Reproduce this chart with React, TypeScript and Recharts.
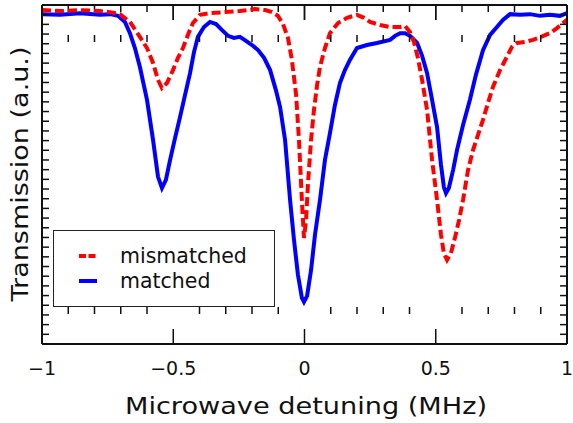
import React from 'react';
import { LineChart, Line, XAxis, YAxis, ReferenceLine } from 'recharts';

// ---- data (detuning in MHz, transmission in a.u.) ----
const matchedX = [
  -1.0, -0.931, -0.855, -0.779, -0.741, -0.71, -0.684, -0.665, -0.646, -0.627,
  -0.6, -0.577, -0.558, -0.543, -0.528, -0.512, -0.493, -0.474, -0.455, -0.436,
  -0.421, -0.406, -0.383, -0.36, -0.337, -0.314, -0.291, -0.269, -0.246, -0.223,
  -0.2, -0.177, -0.154, -0.131, -0.109, -0.093, -0.074, -0.055, -0.04, -0.025,
  -0.01, -0.002, 0.01, 0.025, 0.04, 0.059, 0.078, 0.097, 0.116, 0.135,
  0.154, 0.173, 0.2, 0.238, 0.276, 0.326, 0.345, 0.364, 0.383, 0.402,
  0.429, 0.448, 0.467, 0.486, 0.505, 0.52, 0.531, 0.539, 0.55, 0.566,
  0.581, 0.604, 0.63, 0.653, 0.68, 0.707, 0.733, 0.756, 0.783, 0.821,
  0.859, 0.897, 0.935, 0.973, 1.0,
];
const matchedY = [
  0.973, 0.971, 0.976, 0.971, 0.973, 0.968, 0.95, 0.917, 0.873, 0.817,
  0.72, 0.602, 0.493, 0.46, 0.484, 0.543, 0.608, 0.67, 0.735, 0.799,
  0.861, 0.906, 0.935, 0.95, 0.944, 0.926, 0.909, 0.903, 0.906, 0.894,
  0.882, 0.867, 0.844, 0.808, 0.749, 0.699, 0.602, 0.425, 0.307, 0.204,
  0.136, 0.124, 0.142, 0.218, 0.322, 0.425, 0.543, 0.622, 0.705, 0.77,
  0.808, 0.838, 0.873, 0.882, 0.888, 0.897, 0.909, 0.917, 0.917, 0.909,
  0.888, 0.85, 0.799, 0.72, 0.64, 0.528, 0.463, 0.445, 0.46, 0.513,
  0.572, 0.646, 0.72, 0.794, 0.867, 0.912, 0.935, 0.956, 0.973, 0.971,
  0.973, 0.968, 0.971, 0.968, 0.976,
];

const mismatchedX = [
  -1.0, -0.931, -0.855, -0.779, -0.741, -0.703, -0.665, -0.627, -0.6, -0.577,
  -0.558, -0.543, -0.524, -0.501, -0.482, -0.463, -0.444, -0.425, -0.398, -0.36,
  -0.303, -0.246, -0.189, -0.15, -0.124, -0.101, -0.082, -0.063, -0.048, -0.032,
  -0.021, -0.01, -0.002, 0.006, 0.013, 0.025, 0.036, 0.048, 0.059, 0.078,
  0.097, 0.128, 0.162, 0.2, 0.227, 0.25, 0.288, 0.326, 0.364, 0.383,
  0.402, 0.417, 0.432, 0.448, 0.467, 0.486, 0.505, 0.52, 0.531, 0.543,
  0.558, 0.573, 0.589, 0.604, 0.623, 0.642, 0.661, 0.68, 0.699, 0.718,
  0.745, 0.771, 0.79, 0.81, 0.84, 0.87, 0.901, 0.935, 0.962, 0.985,
  1.0,
];
const mismatchedY = [
  0.985, 0.982, 0.985, 0.982, 0.979, 0.973, 0.95, 0.906, 0.873, 0.829,
  0.779, 0.755, 0.77, 0.808, 0.844, 0.873, 0.912, 0.947, 0.971, 0.976,
  0.979, 0.982, 0.988, 0.985, 0.979, 0.968, 0.944, 0.903, 0.838, 0.735,
  0.602, 0.425, 0.313, 0.366, 0.469, 0.602, 0.69, 0.764, 0.817, 0.873,
  0.917, 0.947, 0.962, 0.971, 0.962, 0.95, 0.941, 0.935, 0.935, 0.938,
  0.92, 0.891, 0.844, 0.779, 0.69, 0.543, 0.425, 0.322, 0.268, 0.248,
  0.268, 0.313, 0.366, 0.425, 0.513, 0.572, 0.617, 0.661, 0.711, 0.758,
  0.808, 0.847, 0.876, 0.888, 0.891, 0.897, 0.906, 0.917, 0.932, 0.947,
  0.956,
];

const xTickLabels = [-1, -0.5, 0, 0.5, 1];
const xMinorTicks = [-0.9, -0.8, -0.7, -0.6, -0.4, -0.3, -0.2, -0.1, 0.1, 0.2, 0.3, 0.4, 0.6, 0.7, 0.8, 0.9];
const yTickCount = 35;
const yMinorTicks = Array.from({ length: yTickCount + 1 }, (_, k) => k / yTickCount);

const series = [
  { name: 'mismatched', color: '#ff0000', dash: '9 4', legendDash: '7 2.5' },
  { name: 'matched', color: '#0000ff', dash: undefined, legendDash: undefined },
];
const xTitle = 'Microwave detuning (MHz)';
const yTitle = 'Transmission (a.u.)';

const matchedData = matchedX.map((x, i) => ({ x, y: matchedY[i] }));
const mismatchedData = mismatchedX.map((x, i) => ({ x, y: mismatchedY[i] }));

const FONT = '"DejaVu Sans", Verdana, sans-serif';
const fmt = (v: number) => (v < 0 ? '\u2212' + Math.abs(v) : String(v));

const EmptyTick = () => <g />;
const tickStroke = { stroke: '#111', strokeWidth: 1.5 };
const frameStroke = { stroke: '#111', strokeWidth: 2 };

const LegendBox = () => (
  <div style={{ position: 'absolute', left: 53, top: 230, width: 222, height: 77, boxSizing: 'border-box', border: '1.5px solid #222', background: '#fff' }}>
    {series.map((s, i) => (
      <div key={s.name} style={{ position: 'absolute', left: 0, top: 13 + i * 25, height: 24, display: 'flex', alignItems: 'center' }}>
        <svg width={60} height={24} style={{ display: 'block' }}>
          <line x1={25} x2={43} y1={12} y2={12} stroke={s.color} strokeWidth={4} strokeDasharray={s.legendDash} />
        </svg>
        <span style={{ fontFamily: FONT, fontSize: 20.5, marginLeft: 6, color: '#111', lineHeight: '24px' }}>{s.name}</span>
      </div>
    ))}
  </div>
);

const Titles = () => (
  <svg width={573} height={423} style={{ position: 'absolute', left: 0, top: 0, pointerEvents: 'none' }}>
    <text x={306} y={414} textAnchor="middle" fontFamily={FONT} fontSize={23} fill="#111" textLength={362} lengthAdjust="spacingAndGlyphs">
      {xTitle}
    </text>
    <text x={28} y={174} transform="rotate(-90, 28, 174)" textAnchor="middle" fontFamily={FONT} fontSize={23} fill="#111" textLength={255} lengthAdjust="spacingAndGlyphs">
      {yTitle}
    </text>
  </svg>
);

export default function App() {
  return (
    <div style={{ position: 'absolute', left: 0, top: 0, width: 573, height: 423 }}>
      <LineChart width={573} height={423} margin={{ top: 5, right: 6, left: 42, bottom: 49 }}>
        <XAxis
          xAxisId="x"
          type="number"
          dataKey="x"
          domain={[-1, 1]}
          ticks={xTickLabels}
          interval={0}
          tickFormatter={fmt}
          tickLine={false}
          axisLine={frameStroke}
          height={30}
          tickSize={6}
          tickMargin={12}
          tick={{ fontSize: 19, fill: '#111', fontFamily: FONT }}
          allowDataOverflow
        />
        <XAxis xAxisId="bm" type="number" dataKey="x" domain={[-1, 1]} ticks={xMinorTicks} interval={0} mirror tickSize={7} tick={<EmptyTick />} axisLine={false} tickLine={tickStroke} allowDataOverflow />
        <XAxis xAxisId="bM" type="number" dataKey="x" domain={[-1, 1]} ticks={xTickLabels} interval={0} mirror tickSize={15} tick={<EmptyTick />} axisLine={false} tickLine={tickStroke} allowDataOverflow />
        <XAxis xAxisId="tm" orientation="top" type="number" dataKey="x" domain={[-1, 1]} ticks={xMinorTicks} interval={0} mirror tickSize={7} tick={<EmptyTick />} axisLine={false} tickLine={tickStroke} allowDataOverflow />
        <XAxis xAxisId="tM" orientation="top" type="number" dataKey="x" domain={[-1, 1]} ticks={xTickLabels} interval={0} mirror tickSize={15} tick={<EmptyTick />} axisLine={frameStroke} tickLine={tickStroke} allowDataOverflow />
        <YAxis yAxisId="y" type="number" dataKey="y" domain={[0, 1]} ticks={yMinorTicks} interval={0} mirror tickSize={7} tick={<EmptyTick />} axisLine={frameStroke} tickLine={tickStroke} allowDataOverflow />
        <YAxis yAxisId="yr" orientation="right" type="number" dataKey="y" domain={[0, 1]} ticks={yMinorTicks} interval={0} mirror tickSize={7} tick={<EmptyTick />} axisLine={frameStroke} tickLine={tickStroke} allowDataOverflow />
        {xTickLabels.map((t) => (
          <ReferenceLine key={t} xAxisId="x" yAxisId="y" segment={[{ x: t, y: 1 }, { x: t, y: 1 - 15 / 339 }]} stroke="#111" strokeWidth={1.5} ifOverflow="visible" />
        ))}
        {xMinorTicks.map((t) => (
          <ReferenceLine key={t} xAxisId="x" yAxisId="y" segment={[{ x: t, y: 1 }, { x: t, y: 1 - 7 / 339 }]} stroke="#111" strokeWidth={1.5} ifOverflow="visible" />
        ))}
        <Line
          xAxisId="x"
          yAxisId="y"
          data={matchedData}
          dataKey="y"
          name={series[1].name}
          type="linear"
          stroke={series[1].color}
          strokeWidth={4}
          dot={false}
          isAnimationActive={false}
        />
        <Line
          xAxisId="x"
          yAxisId="y"
          data={mismatchedData}
          dataKey="y"
          name={series[0].name}
          type="linear"
          stroke={series[0].color}
          strokeWidth={4}
          strokeDasharray={series[0].dash}
          dot={false}
          isAnimationActive={false}
        />
      </LineChart>
      <Titles />
      <LegendBox />
    </div>
  );
}
